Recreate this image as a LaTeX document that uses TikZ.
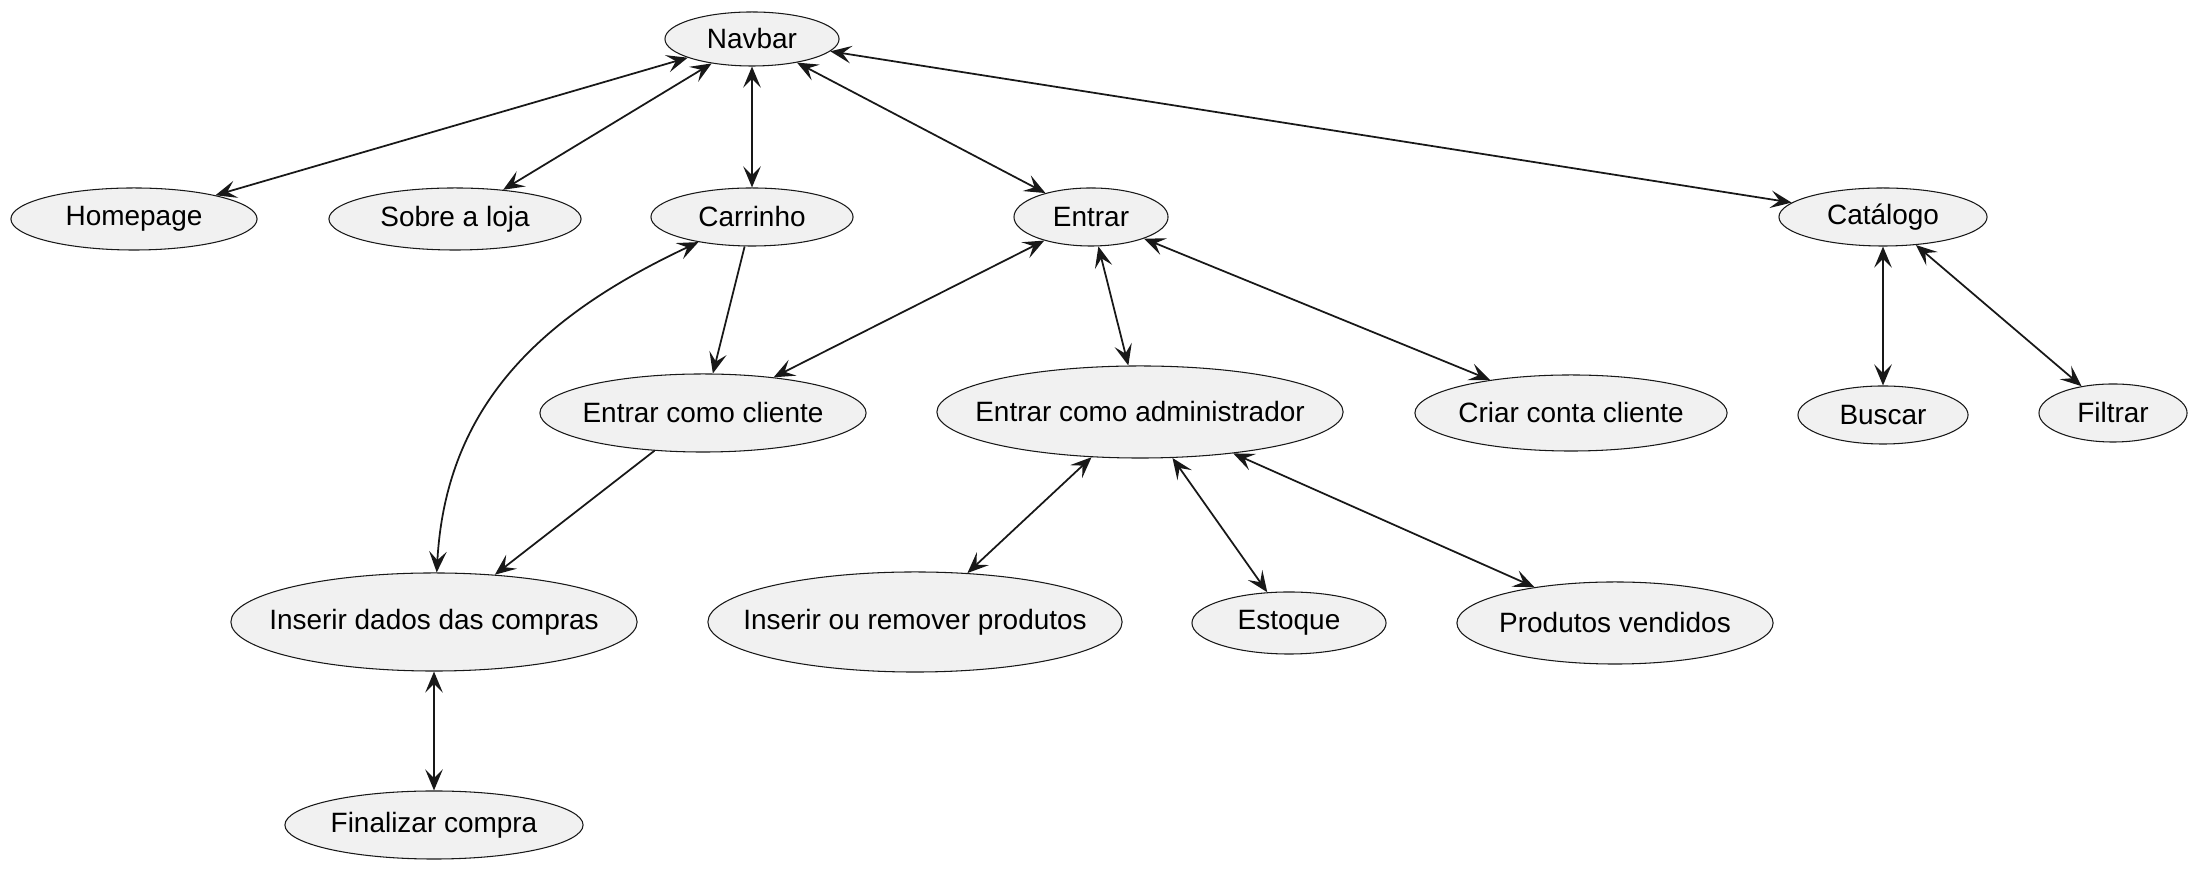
\documentclass[tikz,border=0pt]{standalone}
\usepackage{fontspec}
\setmainfont{Liberation Sans}
\usepackage{xcolor}
\usepackage{tikz}
\usetikzlibrary{arrows.meta,shapes.geometric}
\definecolor{ucfill}{RGB}{241,241,241}
\definecolor{ucline}{RGB}{24,24,24}

\begin{document}
\begin{tikzpicture}[x=0.01cm, y=0.01cm, font=\fontsize{7.95}{9}\selectfont,
  usecase/.style={ellipse, draw=ucline, fill=ucfill, line width=0.3pt, inner xsep=-0.4cm, inner ysep=-0.2cm},
  link/.style={<->, >={Stealth[length=6pt, width=5pt, inset=2.5pt]}, line width=0.5pt, ucline},
  onelink/.style={link, ->}]
  \useasboundingbox (0,0) rectangle (2197,-871);

  % --- top row ---
  \node[usecase, minimum width=1.74cm, minimum height=0.54cm] (navbar) at (752,-39) {Navbar};
  \node[usecase, minimum width=2.46cm, minimum height=0.62cm] (home) at (134,-219) {Homepage};
  \node[usecase, minimum width=2.52cm, minimum height=0.62cm] (sobre) at (455,-219) {Sobre a loja};
  \node[usecase, minimum width=2.02cm, minimum height=0.58cm] (carrinho) at (752,-217) {Carrinho};
  \node[usecase, minimum width=1.54cm, minimum height=0.58cm] (entrar) at (1091,-217) {Entrar};
  \node[usecase, minimum width=2.08cm, minimum height=0.58cm] (catalogo) at (1883,-217) {Catálogo};

  % --- second row ---
  \node[usecase, minimum width=3.26cm, minimum height=0.78cm] (cliente) at (703,-413) {Entrar como cliente};
  \node[usecase, minimum width=4.06cm, minimum height=0.92cm] (admin) at (1140,-412) {Entrar como administrador};
  \node[usecase, minimum width=3.12cm, minimum height=0.76cm] (criar) at (1571,-413) {Criar conta cliente};
  \node[usecase, minimum width=1.70cm, minimum height=0.58cm] (buscar) at (1883,-415) {Buscar};
  \node[usecase, minimum width=1.48cm, minimum height=0.58cm] (filtrar) at (2113,-413) {Filtrar};

  % --- third row ---
  \node[usecase, minimum width=4.06cm, minimum height=0.98cm] (dados) at (434,-622) {Inserir dados das compras};
  \node[usecase, minimum width=4.14cm, minimum height=1.00cm] (produtos) at (915,-622) {Inserir ou remover produtos};
  \node[usecase, minimum width=1.94cm, minimum height=0.62cm] (estoque) at (1289,-623) {Estoque};
  \node[usecase, minimum width=3.16cm, minimum height=0.82cm] (vendidos) at (1615,-623) {Produtos vendidos};
  \node[usecase, minimum width=2.98cm, minimum height=0.68cm] (finalizar) at (434,-825) {Finalizar compra};

  % Navbar links
  \draw[link] (navbar) -- (home);
  \draw[link] (navbar) -- (sobre);
  \draw[link] (navbar) -- (carrinho);
  \draw[link] (navbar) -- (entrar);
  \draw[link] (navbar) -- (catalogo);

  % Carrinho
  \draw[onelink] (carrinho) -- (cliente);
  \draw[link] (carrinho) .. controls (543,-315) and (446,-404) .. (dados);

  % Entrar
  \draw[link] (entrar) -- (cliente);
  \draw[link] (entrar) -- (admin);
  \draw[link] (entrar) -- (criar);

  % Catalogo
  \draw[link] (catalogo) -- (buscar);
  \draw[link] (catalogo) -- (filtrar);

  % Compra
  \draw[onelink] (cliente) -- (dados);
  \draw[link] (dados) -- (finalizar);

  % Administrador
  \draw[link] (admin) -- (produtos);
  \draw[link] (admin) -- (estoque);
  \draw[link] (admin) -- (vendidos);
\end{tikzpicture}
\end{document}
